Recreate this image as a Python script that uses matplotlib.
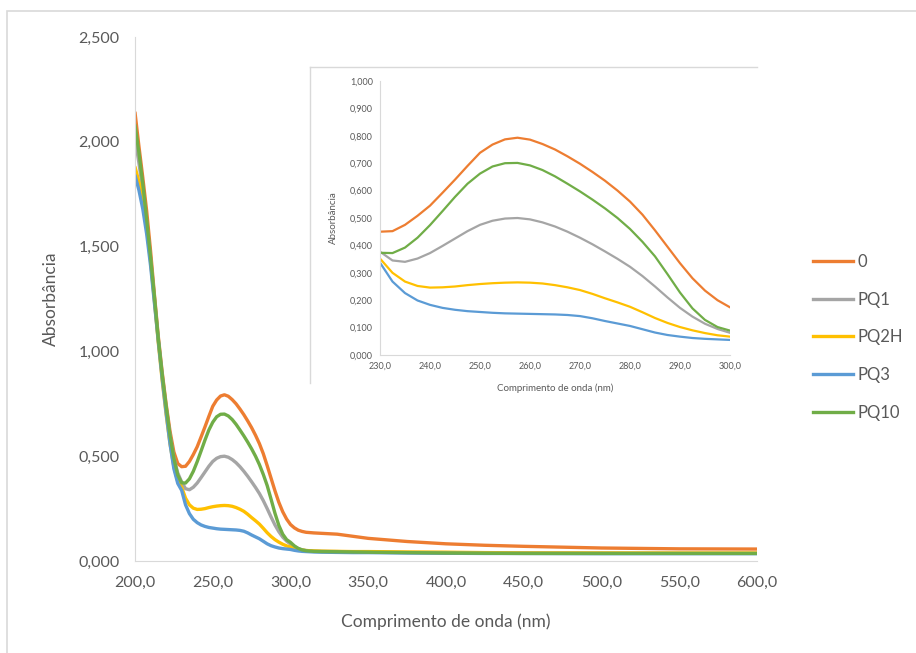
import numpy as np
import matplotlib.pyplot as plt
from matplotlib.patches import Rectangle
from matplotlib.lines import Line2D

plt.rcParams['font.family'] = ['Lato', 'DejaVu Sans']

# wavelength grid (nm): 2.5 nm steps up to 300, coarser afterwards
wl = list(np.arange(200, 300.1, 2.5)) + [302.5, 305, 307.5, 310, 315, 320, 330, 340,
                                          350, 375, 400, 425, 450, 500, 550, 600]

# absorbance (200-227.5 | 230-300 | 302.5-600)
s0 = [2.14, 1.98, 1.83, 1.67, 1.48, 1.27, 1.07, 0.90, 0.75, 0.62, 0.52, 0.465,
      0.450, 0.452, 0.475, 0.508, 0.545, 0.592, 0.640, 0.690, 0.738, 0.768, 0.787, 0.793,
      0.786, 0.770, 0.750, 0.725, 0.698, 0.668, 0.636, 0.600, 0.560, 0.512, 0.455, 0.395,
      0.335, 0.280, 0.235, 0.200, 0.174,
      0.158, 0.147, 0.141, 0.137, 0.134, 0.132, 0.128, 0.118, 0.108, 0.093, 0.082, 0.075,
      0.070, 0.062, 0.058, 0.057]
pq1 = [2.02, 1.90, 1.77, 1.61, 1.44, 1.25, 1.05, 0.88, 0.73, 0.60, 0.49, 0.42,
       0.377, 0.345, 0.340, 0.352, 0.372, 0.398, 0.425, 0.452, 0.475, 0.490, 0.498, 0.500,
       0.495, 0.484, 0.469, 0.450, 0.428, 0.404, 0.378, 0.351, 0.322, 0.288, 0.250, 0.210,
       0.172, 0.140, 0.114, 0.095, 0.081,
       0.068, 0.059, 0.053, 0.050, 0.047, 0.046, 0.045, 0.043, 0.042, 0.041, 0.040, 0.039,
       0.038, 0.038, 0.037, 0.037]
pq2h = [1.88, 1.81, 1.72, 1.59, 1.43, 1.24, 1.04, 0.86, 0.70, 0.56, 0.45, 0.38,
        0.352, 0.300, 0.268, 0.252, 0.246, 0.247, 0.250, 0.255, 0.259, 0.262, 0.264, 0.265,
        0.264, 0.261, 0.255, 0.247, 0.237, 0.223, 0.207, 0.192, 0.176, 0.156, 0.135, 0.117,
        0.102, 0.090, 0.080, 0.072, 0.067,
        0.060, 0.055, 0.052, 0.050, 0.048, 0.047, 0.046, 0.045, 0.045, 0.043, 0.042, 0.040,
        0.039, 0.038, 0.038, 0.038]
pq3 = [1.84, 1.77, 1.68, 1.56, 1.41, 1.23, 1.05, 0.87, 0.71, 0.56, 0.44, 0.37,
       0.337, 0.268, 0.226, 0.199, 0.183, 0.172, 0.165, 0.160, 0.157, 0.154, 0.152, 0.151,
       0.150, 0.149, 0.148, 0.146, 0.142, 0.134, 0.124, 0.115, 0.106, 0.094, 0.082, 0.073,
       0.067, 0.062, 0.059, 0.057, 0.055,
       0.051, 0.048, 0.046, 0.045, 0.043, 0.042, 0.041, 0.040, 0.040, 0.038, 0.037, 0.036,
       0.036, 0.035, 0.035, 0.035]
pq10 = [2.08, 1.95, 1.80, 1.63, 1.45, 1.26, 1.06, 0.89, 0.74, 0.60, 0.49, 0.41,
        0.373, 0.372, 0.392, 0.428, 0.474, 0.525, 0.577, 0.625, 0.662, 0.688, 0.700, 0.701,
        0.692, 0.675, 0.652, 0.625, 0.597, 0.567, 0.535, 0.500, 0.460, 0.413, 0.360, 0.295,
        0.228, 0.170, 0.128, 0.102, 0.089,
        0.072, 0.060, 0.053, 0.049, 0.046, 0.045, 0.044, 0.043, 0.042, 0.040, 0.038, 0.037,
        0.036, 0.036, 0.036, 0.036]

labels = ['0', 'PQ1', 'PQ2H', 'PQ3', 'PQ10']
colors = ['#ED7D31', '#A5A5A5', '#FFC000', '#5B9BD5', '#70AD47']
series = [s0, pq1, pq2h, pq3, pq10]

main_xt = np.arange(200, 601, 50)
main_yt = np.arange(0, 2.51, 0.5)
ins_xt = np.arange(230, 301, 10)
ins_yt = np.arange(0, 1.01, 0.1)

txt = '#595959'
grid_c = '#D9D9D9'
W, H = 916, 653
fig = plt.figure(figsize=(W / 100, H / 100), dpi=100)

# outer chart frame
fig.add_artist(Rectangle((7 / W, -0.05), 1.1, (H - 11) / H + 0.05, transform=fig.transFigure,
                         fill=False, edgecolor=grid_c, linewidth=1.2))


def fmt(v, dec):
    return '{:.{}f}'.format(v, dec).replace('.', ',')


ax = fig.add_axes([135 / W, (H - 561) / H, 622 / W, 524 / H])
for y, c, lab in zip(series, colors, labels):
    ax.plot(wl, y, color=c, linewidth=2.4, label=lab, solid_capstyle='round',
            solid_joinstyle='round')
ax.set_xlim(200, 600)
ax.set_ylim(0, 2.5)
ax.set_xticks(main_xt)
ax.set_yticks(main_yt)
ax.set_xticklabels([fmt(v, 1) for v in main_xt])
ax.set_yticklabels([fmt(v, 3) for v in main_yt])
for s in ['top', 'right']:
    ax.spines[s].set_visible(False)
for s in ['left', 'bottom']:
    ax.spines[s].set_color(grid_c)
ax.tick_params(length=0, labelsize=11.5, colors=txt, pad=11)
ax.set_xlabel('Comprimento de onda (nm)', fontsize=12.5, color=txt, labelpad=17)
ax.set_ylabel('Absorbância', fontsize=12.5, color=txt, labelpad=14)

# legend
handles = [Line2D([], [], color=c, linewidth=2.4) for c in colors]
fig.legend(handles, labels, loc='upper left', bbox_to_anchor=(798 / W, 1 - 239 / H),
           frameon=False, fontsize=12, labelcolor=txt, handlelength=2.4,
           handletextpad=0.25, labelspacing=1.3)

# inset box (left and top border only)
fig.add_artist(Line2D([310 / W, 310 / W], [(H - 383) / H, (H - 67) / H],
                      transform=fig.transFigure, color=grid_c, linewidth=1))
fig.add_artist(Line2D([310 / W, 757 / W], [(H - 67) / H, (H - 67) / H],
                      transform=fig.transFigure, color=grid_c, linewidth=1))
axi = fig.add_axes([380 / W, (H - 355) / H, 350 / W, 274 / H])
for y, c in zip(series, colors):
    axi.plot(wl, y, color=c, linewidth=1.6, solid_joinstyle='round')
axi.set_xlim(230, 300)
axi.set_ylim(0, 1.0)
axi.set_xticks(ins_xt)
axi.set_yticks(ins_yt)
axi.set_xticklabels([fmt(v, 1) for v in ins_xt])
axi.set_yticklabels([fmt(v, 3) for v in ins_yt])
for s in ['top', 'right']:
    axi.spines[s].set_visible(False)
for s in ['left', 'bottom']:
    axi.spines[s].set_color(grid_c)
axi.tick_params(length=0, labelsize=6.5, colors=txt, pad=5)
axi.set_xlabel('Comprimento de onda (nm)', fontsize=7, color=txt, labelpad=9)
axi.set_ylabel('Absorbância', fontsize=7, color=txt, labelpad=9)

fig.savefig('out.png', dpi=100)
